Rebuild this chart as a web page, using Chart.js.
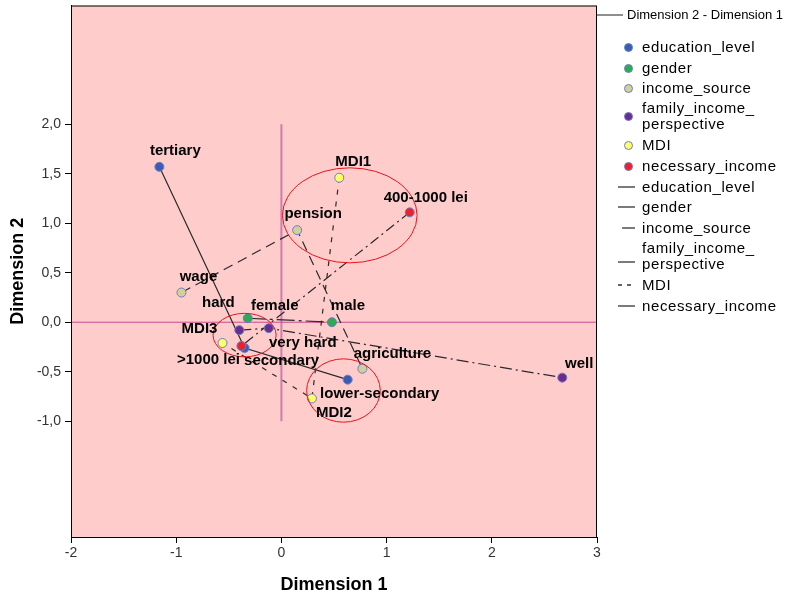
<!DOCTYPE html>
<html>
<head>
<meta charset="utf-8">
<script src="https://cdn.jsdelivr.net/npm/chart.js@4.4.1/dist/chart.umd.min.js"></script>
<style>
  body { margin: 0; background: #fff; }
  #wrap { position: relative; width: 789px; height: 598px; font-family: "Liberation Sans", Arial, sans-serif; }
  #chart { position: absolute; left: 0; top: 0; }
  .lg { position: absolute; color: #000; font-size: 15px; letter-spacing: 0.6px; line-height: 16px; white-space: nowrap; }
  .dot { position: absolute; width: 9px; height: 9px; border-radius: 50%; box-sizing: border-box; border: 1px solid #6b7fc4; }
  .hdr { position: absolute; font-size: 13px; color: #000; white-space: nowrap; }
</style>
</head>
<body>
<div id="wrap">
  <canvas id="chart" width="789" height="598"></canvas>
  <div id="legend"></div>
</div>
<script>
// Kategóriapontok (Dimension 1 / Dimension 2)
const seriesNames = ["education_level", "gender", "income_source", "family_income_perspective", "MDI", "necessary_income"];

const educationLabels = ["tertiary", "secondary", "lower-secondary"];
const educationX = [-1.16, -0.35, 0.63];
const educationY = [1.57, -0.26, -0.58];

const genderLabels = ["female", "male"];
const genderX = [-0.32, 0.48];
const genderY = [0.04, 0.0];

const incomeSourceLabels = ["wage", "pension", "agriculture"];
const incomeSourceX = [-0.95, 0.15, 0.77];
const incomeSourceY = [0.30, 0.93, -0.47];

const familyLabels = ["hard", "very hard", "well"];
const familyX = [-0.40, -0.12, 2.67];
const familyY = [-0.08, -0.06, -0.56];

const mdiLabels = ["MDI1", "MDI2", "MDI3"];
const mdiX = [0.55, 0.29, -0.56];
const mdiY = [1.46, -0.77, -0.21];

const necessaryLabels = ["400-1000 lei", ">1000 lei"];
const necessaryX = [1.22, -0.38];
const necessaryY = [1.11, -0.24];

const xTickValues = [-2, -1, 0, 1, 2, 3];
const yTickValues = [-1, -0.5, 0, 0.5, 1, 1.5, 2];

// kézzel rajzolt piros ellipszisek (középpont, sugár adategységben)
const ellipseX = [0.65, -0.35, 0.59];
const ellipseY = [1.08, -0.13, -0.69];
const ellipseRx = [0.64, 0.30, 0.35];
const ellipseRy = [0.48, 0.22, 0.32];

const series = [
  { name: seriesNames[0], labels: educationLabels, xs: educationX, ys: educationY, color: "#3b5cb5", dash: [] },
  { name: seriesNames[1], labels: genderLabels, xs: genderX, ys: genderY, color: "#2bab52", dash: [18, 4, 3, 4] },
  { name: seriesNames[2], labels: incomeSourceLabels, xs: incomeSourceX, ys: incomeSourceY, color: "#d3cf9c", dash: [10, 6] },
  { name: seriesNames[3], labels: familyLabels, xs: familyX, ys: familyY, color: "#6c2b8e", dash: [12, 4, 2, 4] },
  { name: seriesNames[4], labels: mdiLabels, xs: mdiX, ys: mdiY, color: "#ffff66", dash: [5, 7] },
  { name: seriesNames[5], labels: necessaryLabels, xs: necessaryX, ys: necessaryY, color: "#e8222e", dash: [10, 4, 2, 4] }
];

// címkék eltolása a ponthoz képest (px, a szöveg közepe)
const labelOffsets = {
  "tertiary": [16, -16], "secondary": [37, 13], "lower-secondary": [32, 14],
  "female": [27, -12], "male": [16, -16],
  "wage": [17, -16], "pension": [16, -16], "agriculture": [30, -15],
  "hard": [-21, -27], "very hard": [34, 15], "well": [17, -14],
  "MDI1": [14, -16], "MDI2": [22, 14], "MDI3": [-23, -14],
  "400-1000 lei": [16, -15], ">1000 lei": [-33, 14]
};

function toPoints(xs, ys) {
  return xs.map((x, i) => ({ x: x, y: ys[i] }));
}

const datasets = [];

datasets.push({
  label: "ref-h",
  data: [{ x: -2, y: 0 }, { x: 3, y: 0 }],
  showLine: true, pointRadius: 0, borderColor: "#c8488f", borderWidth: 1, order: 3
});
datasets.push({
  label: "ref-v",
  data: [{ x: 0, y: -1 }, { x: 0, y: 2 }],
  showLine: true, pointRadius: 0, borderColor: "#d27aae", borderWidth: 2, order: 3
});

series.forEach((s) => {
  datasets.push({
    label: s.name + " line",
    data: toPoints(s.xs, s.ys),
    showLine: true, pointRadius: 0, borderColor: "#2a2a2a", borderWidth: 1.2,
    borderDash: s.dash, tension: 0, order: 2
  });
});

// a később felsorolt sorozat kerül felülre (piros pont a kék fölött)
series.forEach((s, i) => {
  datasets.push({
    label: s.name,
    data: toPoints(s.xs, s.ys),
    pointLabels: s.labels,
    showLine: false, pointRadius: 4.5, pointBackgroundColor: s.color,
    pointBorderColor: "#6b7fc4", pointBorderWidth: 1, order: 1 - i * 0.01
  });
});

const backgroundPlugin = {
  id: "plotBackground",
  beforeDraw(chart) {
    const a = chart.chartArea;
    const ctx = chart.ctx;
    ctx.save();
    ctx.fillStyle = "#ffcccc";
    ctx.fillRect(a.left, a.top, a.right - a.left, a.bottom - a.top);
    ctx.restore();
  },
  afterDraw(chart) {
    const a = chart.chartArea;
    const ctx = chart.ctx;
    ctx.save();
    ctx.strokeStyle = "#000";
    ctx.lineWidth = 1;
    ctx.strokeRect(a.left + 0.5, a.top + 0.5, a.right - a.left - 1, a.bottom - a.top);
    ctx.restore();
  }
};

const ellipsePlugin = {
  id: "ellipses",
  afterDatasetsDraw(chart) {
    const xs = chart.scales.x;
    const ys = chart.scales.y;
    const ctx = chart.ctx;
    ctx.save();
    ctx.strokeStyle = "#e8141c";
    ctx.lineWidth = 1;
    ellipseX.forEach((ex, i) => {
      const cx = xs.getPixelForValue(ex);
      const cy = ys.getPixelForValue(ellipseY[i]);
      const rx = Math.abs(xs.getPixelForValue(ex + ellipseRx[i]) - cx);
      const ry = Math.abs(ys.getPixelForValue(ellipseY[i] + ellipseRy[i]) - cy);
      ctx.beginPath();
      ctx.ellipse(cx, cy, rx, ry, 0, 0, Math.PI * 2);
      ctx.stroke();
    });
    ctx.restore();
  }
};

const labelPlugin = {
  id: "pointLabels",
  afterDraw(chart) {
    const ctx = chart.ctx;
    ctx.save();
    ctx.font = "bold 15px 'Liberation Sans', Arial, sans-serif";
    ctx.fillStyle = "#000";
    ctx.textAlign = "center";
    ctx.textBaseline = "middle";
    chart.data.datasets.forEach((ds, di) => {
      if (!ds.pointLabels) {
        return;
      }
      const meta = chart.getDatasetMeta(di);
      meta.data.forEach((pt, i) => {
        const text = ds.pointLabels[i];
        const off = labelOffsets[text] || [0, -14];
        ctx.fillText(text, pt.x + off[0], pt.y + off[1]);
      });
    });
    ctx.restore();
  }
};

new Chart(document.getElementById("chart"), {
  type: "scatter",
  data: { datasets: datasets },
  options: {
    responsive: false,
    devicePixelRatio: 1,
    animation: false,
    layout: { padding: { top: 5, right: 192, left: 0, bottom: 0 } },
    plugins: {
      legend: { display: false },
      tooltip: { enabled: false }
    },
    scales: {
      x: {
        type: "linear",
        min: -2,
        max: 3,
        afterFit: function (scale) {
          scale.height = 61;
          scale.paddingLeft = 0;
          scale.paddingRight = 0;
        },
        afterBuildTicks: function (scale) {
          scale.ticks = xTickValues.map((v) => ({ value: v }));
        },
        ticks: {
          color: "#333",
          padding: 2,
          font: { size: 14, family: "'Liberation Sans', Arial, sans-serif" },
          callback: function (v) { return String(v); }
        },
        grid: { drawOnChartArea: false, drawTicks: true, tickLength: 6, tickColor: "#000" },
        border: { display: true, color: "#000" },
        title: {
          display: true,
          text: "Dimension 1",
          color: "#000",
          padding: { top: 0, bottom: 2 },
          font: { size: 18, weight: "bold", family: "'Liberation Sans', Arial, sans-serif" }
        }
      },
      y: {
        type: "linear",
        min: -2.17,
        max: 3.2,
        afterFit: function (scale) {
          scale.width = 71;
          scale.paddingTop = 0;
          scale.paddingBottom = 0;
        },
        afterBuildTicks: function (scale) {
          scale.ticks = yTickValues.map((v) => ({ value: v }));
        },
        ticks: {
          color: "#333",
          padding: 4,
          font: { size: 14, family: "'Liberation Sans', Arial, sans-serif" },
          callback: function (v) { return v.toFixed(1).replace(".", ","); }
        },
        grid: { drawOnChartArea: false, drawTicks: true, tickLength: 6, tickColor: "#000" },
        border: { display: true, color: "#000" },
        title: {
          display: true,
          text: "Dimension 2",
          color: "#000",
          padding: { top: 7, bottom: 0 },
          font: { size: 18, weight: "bold", family: "'Liberation Sans', Arial, sans-serif" }
        }
      }
    }
  },
  plugins: [backgroundPlugin, ellipsePlugin, labelPlugin]
});

// jelmagyarázat (HTML)
function buildLegend() {
  const target = document.getElementById("legend");
  const rowCenters = [47, 68, 88, 116, 145, 166, 187, 207, 228, 256, 285, 306];
  let html = "";

  html += '<svg style="position:absolute;left:597px;top:10px" width="28" height="10"><line x1="0" y1="5" x2="26" y2="5" stroke="#444" stroke-width="1.2"/></svg>';
  html += '<div class="hdr" style="left:627px;top:7px">Dimension 2 - Dimension 1</div>';

  function legendText(name) {
    if (name.length > 17) {
      const cut = name.lastIndexOf("_");
      return name.slice(0, cut + 1) + "<br>" + name.slice(cut + 1);
    }
    return name;
  }

  series.forEach((s, i) => {
    const cy = rowCenters[i];
    const twoLines = s.name.length > 17;
    html += '<div class="dot" style="left:' + (628 - 4.5) + 'px;top:' + (cy - 4.5) + 'px;background:' + s.color + '"></div>';
    html += '<div class="lg" style="left:642px;top:' + (cy - (twoLines ? 16 : 8)) + 'px">' + legendText(s.name) + '</div>';
  });

  const lineMarks = [[618, 635, 0], [618, 635, 0], [622, 635, 0], [618, 635, 6], [618, 634, 0], [618, 635, 0]];
  series.forEach((s, i) => {
    const cy = rowCenters[6 + i];
    const twoLines = s.name.length > 17;
    const m = lineMarks[i];
    const dash = i === 4 ? ' stroke-dasharray="4,5"' : "";
    html += '<svg style="position:absolute;left:' + m[0] + 'px;top:' + (cy - 5 + m[2]) + 'px" width="' + (m[1] - m[0]) + '" height="10"><line x1="0" y1="5" x2="' + (m[1] - m[0]) + '" y2="5" stroke="#333" stroke-width="1.3"' + dash + '/></svg>';
    html += '<div class="lg" style="left:642px;top:' + (cy - (twoLines ? 16 : 8)) + 'px">' + legendText(s.name) + '</div>';
  });

  target.innerHTML = html;
}

buildLegend();
</script>
</body>
</html>
